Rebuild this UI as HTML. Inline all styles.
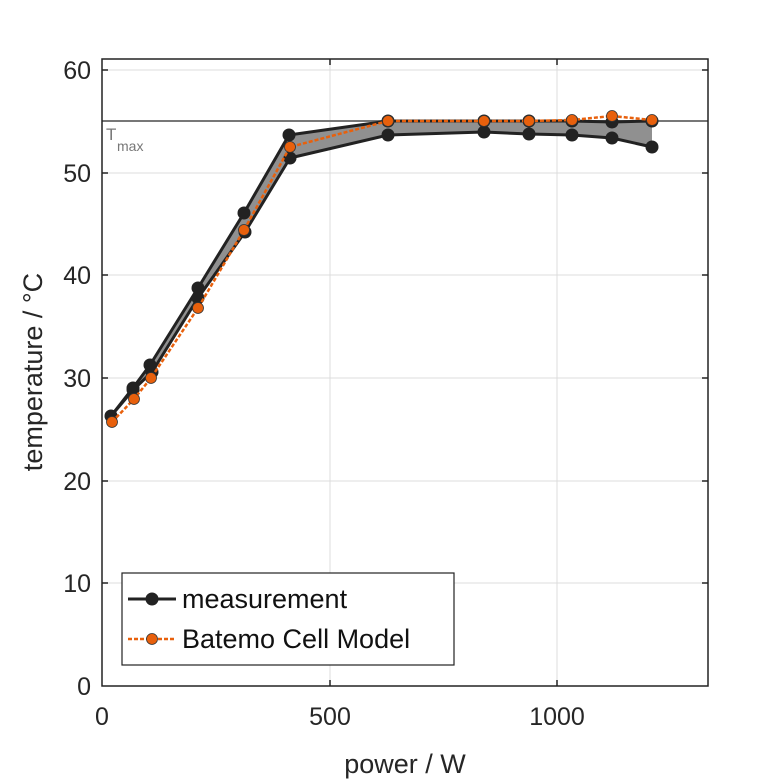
<!DOCTYPE html>
<html><head><meta charset="utf-8"><style>
html,body{margin:0;padding:0;background:#fff;}
svg{display:block;font-family:"Liberation Sans",sans-serif;}
</style></head><body>
<svg width="781" height="781" viewBox="0 0 781 781" xmlns="http://www.w3.org/2000/svg">
<rect width="781" height="781" fill="#fff"/>
<g stroke="#dcdcdc" stroke-width="1">
<line x1="330" y1="59" x2="330" y2="686"/>
<line x1="557" y1="59" x2="557" y2="686"/>
<line x1="102" y1="70" x2="708" y2="70"/>
<line x1="102" y1="173" x2="708" y2="173"/>
<line x1="102" y1="275" x2="708" y2="275"/>
<line x1="102" y1="378" x2="708" y2="378"/>
<line x1="102" y1="481" x2="708" y2="481"/>
<line x1="102" y1="583" x2="708" y2="583"/>
</g>
<line x1="102" y1="121" x2="708" y2="121" stroke="#777" stroke-width="2"/>
<text x="106" y="140" font-size="17" fill="#777">T</text>
<text x="117" y="151" font-size="14" fill="#777">max</text>
<polygon fill="#909090" points="111,416 133,388 150,365 198,288 244,213 289,135 388,121 484,121 529,121 572,121 612,122 652,121 652,147 612,138 572,135 529,134 484,132 388,135 290,158 245,232 198,298 152,372 133,390"/>
<g fill="none" stroke="#222" stroke-width="3" stroke-linejoin="round">
<polyline points="111,416 133,388 150,365 198,288 244,213 289,135 388,121 484,121 529,121 572,121 612,122 652,121"/>
<polyline points="111,416 133,390 152,372 198,298 245,232 290,158 388,135 484,132 529,134 572,135 612,138 652,147"/>
</g>
<g fill="#222">
<circle cx="111" cy="416" r="6.5"/><circle cx="133" cy="388" r="6.5"/><circle cx="150" cy="365" r="6.5"/><circle cx="198" cy="288" r="6.5"/><circle cx="244" cy="213" r="6.5"/><circle cx="289" cy="135" r="6.5"/><circle cx="388" cy="121" r="6.5"/><circle cx="484" cy="121" r="6.5"/><circle cx="529" cy="121" r="6.5"/><circle cx="572" cy="121" r="6.5"/><circle cx="612" cy="122" r="6.5"/><circle cx="652" cy="121" r="6.5"/>
<circle cx="133" cy="390" r="6.5"/><circle cx="152" cy="372" r="6.5"/><circle cx="198" cy="298" r="6.5"/><circle cx="245" cy="232" r="6.5"/><circle cx="290" cy="158" r="6.5"/><circle cx="388" cy="135" r="6.5"/><circle cx="484" cy="132" r="6.5"/><circle cx="529" cy="134" r="6.5"/><circle cx="572" cy="135" r="6.5"/><circle cx="612" cy="138" r="6.5"/><circle cx="652" cy="147" r="6.5"/>
</g>
<polyline fill="none" stroke="#e8600c" stroke-width="2.5" stroke-dasharray="4,2" points="112,422 134,399 151,378 198,308 244,230 290,147 388,121 484,121 529,121 572,120 612,116 652,120"/>
<g fill="#e8600c" stroke="#333" stroke-width="0.8">
<circle cx="112" cy="422" r="5.5"/><circle cx="134" cy="399" r="5.5"/><circle cx="151" cy="378" r="5.5"/><circle cx="198" cy="308" r="5.5"/><circle cx="244" cy="230" r="5.5"/><circle cx="290" cy="147" r="5.5"/><circle cx="388" cy="121" r="5.5"/><circle cx="484" cy="121" r="5.5"/><circle cx="529" cy="121" r="5.5"/><circle cx="572" cy="120" r="5.5"/><circle cx="612" cy="116" r="5.5"/><circle cx="652" cy="120" r="5.5"/>
</g>
<rect x="102" y="59" width="606" height="627" fill="none" stroke="#222" stroke-width="1.5"/>
<g stroke="#222" stroke-width="1.5">
<line x1="330" y1="686" x2="330" y2="680"/><line x1="557" y1="686" x2="557" y2="680"/>
<line x1="330" y1="59" x2="330" y2="65"/><line x1="557" y1="59" x2="557" y2="65"/>
<line x1="102" y1="70" x2="108" y2="70"/><line x1="102" y1="173" x2="108" y2="173"/><line x1="102" y1="275" x2="108" y2="275"/><line x1="102" y1="378" x2="108" y2="378"/><line x1="102" y1="481" x2="108" y2="481"/><line x1="102" y1="583" x2="108" y2="583"/>
<line x1="708" y1="70" x2="702" y2="70"/><line x1="708" y1="173" x2="702" y2="173"/><line x1="708" y1="275" x2="702" y2="275"/><line x1="708" y1="378" x2="702" y2="378"/><line x1="708" y1="481" x2="702" y2="481"/><line x1="708" y1="583" x2="702" y2="583"/>
</g>
<g font-size="25" fill="#262626" text-anchor="end">
<text x="91" y="79">60</text><text x="91" y="182">50</text><text x="91" y="284">40</text><text x="91" y="387">30</text><text x="91" y="490">20</text><text x="91" y="592">10</text><text x="91" y="695">0</text>
</g>
<g font-size="25" fill="#262626" text-anchor="middle">
<text x="102" y="725">0</text><text x="330" y="725">500</text><text x="557" y="725">1000</text>
<text x="405" y="773" font-size="27">power / W</text>
</g>
<text transform="translate(42,372) rotate(-90)" font-size="27" fill="#262626" text-anchor="middle">temperature / °C</text>
<rect x="122" y="573" width="332" height="92" fill="#fff" stroke="#222" stroke-width="1.2"/>
<line x1="128" y1="599" x2="176" y2="599" stroke="#222" stroke-width="3"/>
<circle cx="152" cy="599" r="6.5" fill="#222"/>
<text x="182" y="608" font-size="27" fill="#111">measurement</text>
<line x1="128" y1="639" x2="176" y2="639" stroke="#e8600c" stroke-width="2.5" stroke-dasharray="4,2"/>
<circle cx="152" cy="639" r="5.5" fill="#e8600c" stroke="#333" stroke-width="0.8"/>
<text x="182" y="648" font-size="27" fill="#111">Batemo Cell Model</text>
</svg>
</body></html>
